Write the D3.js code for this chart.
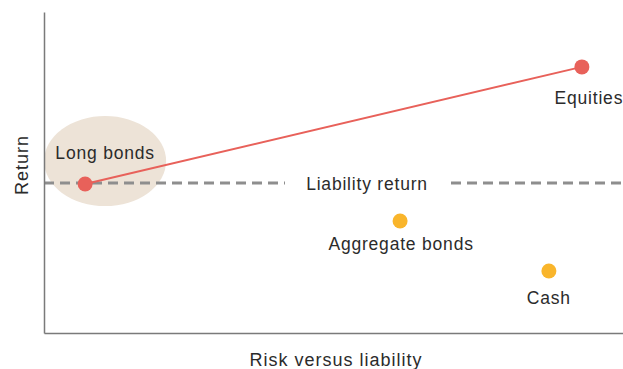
<!DOCTYPE html>
<html>
<head>
<meta charset="utf-8">
<script src="https://cdn.jsdelivr.net/npm/d3@7"></script>
<style>
  html, body { margin: 0; padding: 0; background: #fff; }
  text { font-family: "Liberation Sans", Arial, sans-serif; fill: #2b2b2b; font-size: 17.5px; letter-spacing: 0.8px; }
  text.title { font-size: 18px; letter-spacing: 1px; }
</style>
</head>
<body>
<svg id="chart" width="623" height="369"></svg>
<script>
// Asset classes on an abstract risk / return plane (no numeric ticks)
const assets = ["Long bonds", "Equities", "Aggregate bonds", "Cash"];
const risk   = [0.71, 9.29, 6.15, 8.72];
const ret    = [4.64, 8.29, 3.49, 1.93];
const group  = ["hedge", "hedge", "other", "other"];
const liabilityReturn = 4.67;
const axisTitles = ["Risk versus liability", "Return"];

const svg = d3.select("#chart");
const W = 623, H = 369;
const m = { left: 44, right: 0, top: 12, bottom: 36 };

const x = d3.scaleLinear().domain([0, 10]).range([m.left, W - m.right]);
const y = d3.scaleLinear().domain([0, 10]).range([H - m.bottom, m.top]);

const colour = d3.scaleOrdinal().domain(["hedge", "other"]).range(["#E8615A", "#F9B52B"]);

// highlight halo behind long bonds
svg.append("ellipse")
  .attr("cx", x(risk[0]) + 20).attr("cy", y(ret[0]) - 23)
  .attr("rx", 61).attr("ry", 45)
  .attr("fill", "#EDE3D7");

// liability return reference, broken around its label
const ly = y(liabilityReturn);
svg.append("line")
  .attr("x1", x(0)).attr("x2", 285).attr("y1", ly).attr("y2", ly)
  .attr("stroke", "#8E8E8E").attr("stroke-width", 3).attr("stroke-dasharray", "10,6");
svg.append("line")
  .attr("x1", 451).attr("x2", x(10)).attr("y1", ly).attr("y2", ly)
  .attr("stroke", "#8E8E8E").attr("stroke-width", 3).attr("stroke-dasharray", "10,6");
svg.append("text")
  .attr("x", 367).attr("y", ly + 6.5)
  .attr("text-anchor", "middle")
  .text("Liability return");

// axes without ticks
const xAxis = svg.append("g").attr("transform", `translate(0,${y(0)})`)
  .call(d3.axisBottom(x).tickValues([]).tickSizeOuter(0));
const yAxis = svg.append("g").attr("transform", `translate(${x(0)},0)`)
  .call(d3.axisLeft(y).tickValues([]).tickSizeOuter(0));
[xAxis, yAxis].forEach(g => g.select(".domain").attr("stroke", "#7A7A7A").attr("stroke-width", 1.5));

svg.append("text").attr("class", "title")
  .attr("x", 336).attr("y", 366)
  .attr("text-anchor", "middle")
  .text(axisTitles[0]);
svg.append("text").attr("class", "title")
  .attr("transform", `translate(28,${165}) rotate(-90)`)
  .attr("text-anchor", "middle")
  .text(axisTitles[1]);

// line linking long bonds and equities
const linked = assets.map((d, i) => i).filter(i => group[i] === "hedge");
svg.append("path")
  .datum(linked)
  .attr("d", d3.line().x(i => x(risk[i])).y(i => y(ret[i])))
  .attr("fill", "none").attr("stroke", colour("hedge")).attr("stroke-width", 2);

// asset points
svg.selectAll("circle.pt").data(assets).join("circle")
  .attr("class", "pt")
  .attr("cx", (d, i) => x(risk[i]))
  .attr("cy", (d, i) => y(ret[i]))
  .attr("r", 7.5)
  .attr("fill", (d, i) => colour(group[i]));

// labels: long bonds sits above its point, the rest below
const labelDx = [20, 7, 1, 0];
const labelDy = [-25, 37, 29, 33];
svg.selectAll("text.lbl").data(assets).join("text")
  .attr("class", "lbl")
  .attr("x", (d, i) => x(risk[i]) + labelDx[i])
  .attr("y", (d, i) => y(ret[i]) + labelDy[i])
  .attr("text-anchor", "middle")
  .text(d => d);
</script>
</body>
</html>
